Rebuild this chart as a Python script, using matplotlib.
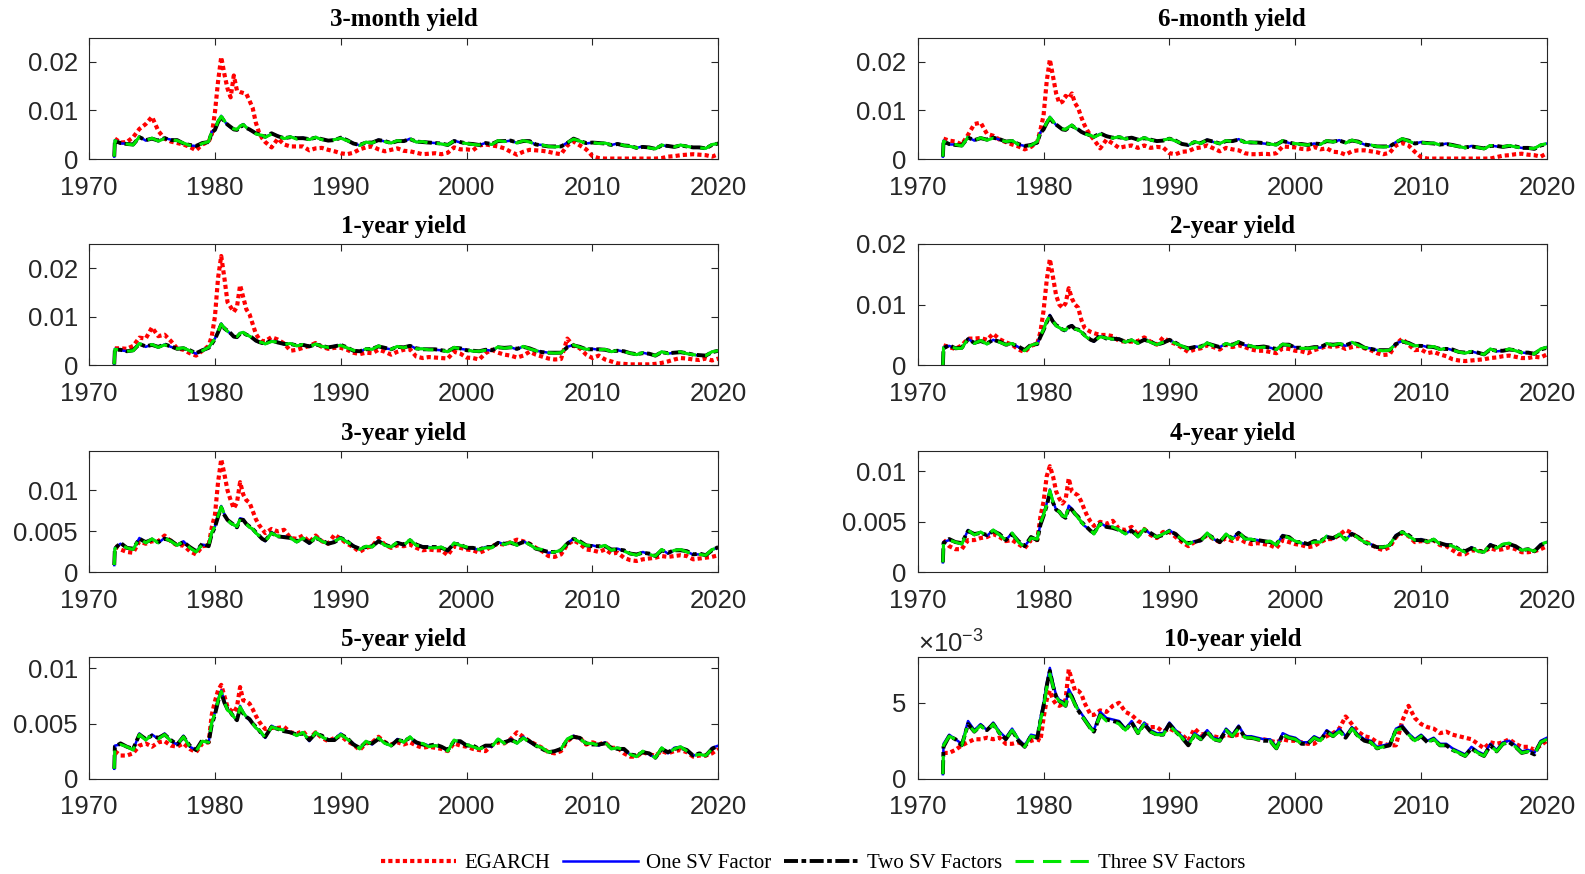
import numpy as np
import matplotlib
matplotlib.use('Agg')
import matplotlib.pyplot as plt
from matplotlib.ticker import ScalarFormatter, FuncFormatter

nan = np.nan

# time axis: half-yearly, quarterly through the 1980-84 spike
years = np.concatenate([[1972.0, 1972.05],
                        np.arange(1972.5, 1979.51, 0.5),
                        np.arange(1979.75, 1984.01, 0.25),
                        np.arange(1984.5, 2020.01, 0.5)])

# all series in units of 1e-3
# ---- 3-month
egarch_3m = [nan, 4.2,
             3.4, 3.5, 4.5, 6.2, 7.2, 8.7, 5.8, 4.2, 3.6, 3.3, 3.0, 2.5, 1.8, 3.0, 3.6,
             5.0, 9.6, 16.0, 21.0, 17.5, 14.5, 12.7, 17.2, 14.1, 13.8, 13.6, 13.4, 12.0, 10.5, 7.5, 5.5, 4.3, 3.5,
             2.4, 4.2, 3.0, 2.6, 2.6, 2.6, 1.8, 2.2, 2.3, 1.9, 1.6, 1.2, 1.0, 1.3, 2.0, 2.4, 2.6, 2.0, 1.6, 1.9,
             2.2, 1.7, 1.6, 1.3, 1.0, 1.1, 1.2, 1.0, 1.3, 2.4, 2.0,
             2.0, 1.8, 2.8, 3.0, 2.8, 2.6, 2.2, 1.5, 0.9, 1.5, 1.9, 1.8, 1.7, 1.5, 1.2, 1.0, 2.8, 3.6, 2.8, 2.0,
             0.6, 0.2, 0.1, 0.1, 0.1, 0.1, 0.1, 0.1, 0.1, 0.1, 0.1, 0.2, 0.5, 0.6, 0.8, 0.9, 1.0, 0.9, 0.8, 0.5, 1.0]
one_sv_3m = [0.5, 3.9,
             3.2, 3.2, 2.9, 4.6, 3.8, 4.3, 3.7, 4.3, 4.0, 3.8, 3.3, 2.8, 2.7, 3.2, 3.5,
             5.6, 6.2, 7.8, 8.9, 7.8, 7.0, 6.5, 6.2, 6.0, 6.8, 7.2, 6.5, 6.0, 5.8, 5.3, 5.0, 4.8, 4.5,
             5.2, 4.8, 4.2, 4.6, 4.2, 4.4, 4.0, 4.5, 4.0, 3.8, 4.0, 4.4, 3.8, 3.3, 2.8, 3.5, 3.3, 4.0, 3.6, 3.3,
             3.8, 3.6, 4.2, 3.5, 3.6, 3.4, 3.3, 3.1, 2.9, 3.8, 3.4,
             3.2, 3.0, 2.9, 3.3, 3.0, 3.8, 3.6, 3.8, 3.3, 3.8, 3.6, 3.0, 2.9, 2.6, 2.5, 2.6, 3.4, 4.1, 3.7, 3.2,
             3.4, 3.2, 3.3, 2.9, 3.2, 2.8, 2.6, 2.3, 2.6, 2.3, 2.1, 2.9, 2.6, 2.5, 2.9, 2.6, 2.4, 2.3, 2.2, 3.0, 3.2]
two_sv_3m = [0.5, 3.7,
             3.3, 3.1, 3.0, 4.5, 3.9, 4.2, 3.8, 4.3, 3.9, 3.9, 3.2, 2.9, 2.7, 3.3, 3.5,
             5.5, 6.0, 7.6, 8.7, 7.7, 7.1, 6.6, 6.1, 6.0, 6.6, 7.0, 6.4, 6.1, 5.7, 5.3, 5.1, 4.8, 4.6,
             5.3, 4.7, 4.3, 4.5, 4.3, 4.3, 4.1, 4.4, 4.1, 3.8, 3.9, 4.4, 3.9, 3.2, 2.9, 3.4, 3.4, 3.9, 3.7, 3.3,
             3.7, 3.7, 4.1, 3.6, 3.5, 3.4, 3.3, 3.2, 2.9, 3.7, 3.5,
             3.2, 3.1, 2.9, 3.3, 3.1, 3.7, 3.7, 3.8, 3.4, 3.7, 3.7, 3.0, 2.8, 2.6, 2.6, 2.6, 3.3, 4.2, 3.7, 3.3,
             3.4, 3.3, 3.2, 2.9, 3.1, 2.8, 2.7, 2.3, 2.5, 2.4, 2.1, 2.8, 2.7, 2.5, 2.8, 2.6, 2.4, 2.4, 2.2, 2.9, 3.2]
three_sv_3m = [0.5, 3.8,
               3.2, 3.1, 2.9, 4.6, 3.8, 4.3, 3.7, 4.2, 4.0, 3.8, 3.3, 2.8, 2.6, 3.2, 3.6,
               5.7, 6.1, 7.8, 8.8, 7.9, 7.0, 6.5, 6.2, 6.1, 6.8, 7.1, 6.5, 6.0, 5.8, 5.2, 5.0, 4.9, 4.5,
               5.1, 4.8, 4.2, 4.6, 4.1, 4.4, 4.0, 4.5, 4.0, 3.8, 4.0, 4.3, 3.8, 3.3, 2.8, 3.5, 3.3, 4.0, 3.6, 3.3,
               3.8, 3.6, 4.2, 3.5, 3.6, 3.3, 3.3, 3.1, 2.9, 3.8, 3.4,
               3.2, 3.0, 2.9, 3.2, 3.0, 3.8, 3.6, 3.8, 3.3, 3.8, 3.5, 3.0, 2.9, 2.6, 2.5, 2.6, 3.4, 4.1, 3.7, 3.2,
               3.4, 3.2, 3.3, 2.9, 3.2, 2.8, 2.6, 2.3, 2.6, 2.3, 2.1, 2.9, 2.6, 2.5, 2.9, 2.6, 2.4, 2.3, 2.2, 3.0, 3.2]

# ---- 6-month
egarch_6m = [nan, 4.2,
             3.8, 3.6, 3.0, 5.0, 7.2, 7.5, 5.2, 4.8, 4.0, 3.5, 3.0, 2.6, 2.0, 2.5, 3.5,
             6.0, 9.0, 16.0, 20.5, 17.0, 13.5, 11.5, 11.8, 13.0, 12.5, 13.5, 11.5, 10.5, 8.6, 7.0, 5.8, 4.8, 4.0,
             2.2, 4.0, 3.2, 2.3, 2.6, 2.8, 2.3, 2.8, 2.3, 2.5, 2.4, 1.2, 1.0, 1.5, 1.6, 2.2, 2.4, 2.8, 2.2, 1.6,
             2.3, 2.0, 1.8, 1.2, 1.0, 1.0, 1.1, 1.0, 1.2, 2.6, 2.5,
             2.4, 2.1, 2.0, 2.5, 2.0, 2.2, 1.5, 1.4, 0.9, 1.6, 1.8, 1.8, 1.6, 1.4, 1.0, 1.3, 2.8, 3.3, 2.8, 1.5,
             0.4, 0.1, 0.1, 0.1, 0.1, 0.1, 0.1, 0.1, 0.1, 0.1, 0.1, 0.1, 0.4, 0.7, 0.8, 1.0, 1.1, 0.9, 0.8, 0.5, 1.2]
one_sv_6m = [0.5, 3.8,
             3.0, 3.0, 2.7, 4.5, 3.8, 4.4, 3.9, 4.4, 4.0, 3.6, 3.8, 3.0, 2.7, 2.8, 3.5,
             5.5, 6.3, 7.5, 8.7, 7.8, 7.0, 6.5, 6.2, 6.0, 6.6, 7.0, 6.4, 6.0, 5.6, 5.2, 5.0, 4.8, 4.5,
             5.2, 4.8, 4.3, 4.6, 4.1, 4.5, 3.9, 4.4, 3.9, 3.7, 3.9, 4.2, 3.7, 3.2, 2.8, 3.6, 3.2, 4.0, 3.5, 3.2,
             3.8, 3.6, 4.1, 3.4, 3.5, 3.4, 3.2, 3.1, 2.9, 3.8, 3.3,
             3.2, 3.0, 2.9, 3.2, 3.0, 3.8, 3.5, 3.9, 3.3, 3.9, 3.5, 3.0, 2.9, 2.6, 2.5, 2.6, 3.5, 4.2, 3.7, 3.2,
             3.5, 3.2, 3.3, 2.9, 3.2, 2.8, 2.6, 2.3, 2.7, 2.4, 2.1, 2.8, 2.6, 2.5, 2.8, 2.5, 2.3, 2.2, 2.2, 2.9, 3.2]
two_sv_6m = [0.5, 3.6,
             3.1, 2.9, 2.8, 4.4, 3.9, 4.3, 4.0, 4.4, 4.1, 3.6, 3.7, 3.1, 2.7, 2.9, 3.4,
             5.4, 6.1, 7.4, 8.5, 7.6, 7.1, 6.6, 6.1, 6.0, 6.5, 6.9, 6.4, 6.1, 5.6, 5.3, 5.1, 4.8, 4.6,
             5.3, 4.7, 4.4, 4.5, 4.2, 4.4, 4.0, 4.3, 4.0, 3.7, 3.8, 4.2, 3.8, 3.1, 2.9, 3.5, 3.3, 3.9, 3.6, 3.2,
             3.7, 3.7, 4.0, 3.5, 3.4, 3.4, 3.3, 3.1, 3.0, 3.7, 3.4,
             3.1, 3.1, 2.9, 3.2, 3.1, 3.7, 3.6, 3.8, 3.4, 3.8, 3.6, 3.0, 2.8, 2.6, 2.6, 2.6, 3.4, 4.1, 3.8, 3.2,
             3.4, 3.3, 3.2, 3.0, 3.1, 2.9, 2.6, 2.4, 2.6, 2.4, 2.2, 2.7, 2.7, 2.5, 2.7, 2.6, 2.3, 2.3, 2.1, 2.8, 3.1]
three_sv_6m = [0.5, 3.7,
               3.0, 3.0, 2.7, 4.5, 3.8, 4.4, 3.9, 4.3, 4.0, 3.6, 3.8, 3.0, 2.6, 2.8, 3.6,
               5.6, 6.2, 7.5, 8.6, 7.8, 7.0, 6.5, 6.2, 6.1, 6.6, 7.0, 6.4, 6.0, 5.6, 5.2, 5.0, 4.9, 4.5,
               5.1, 4.8, 4.3, 4.6, 4.1, 4.5, 3.9, 4.4, 3.9, 3.7, 3.9, 4.2, 3.7, 3.2, 2.8, 3.6, 3.2, 4.0, 3.5, 3.2,
               3.8, 3.6, 4.1, 3.4, 3.5, 3.3, 3.2, 3.1, 2.9, 3.8, 3.3,
               3.2, 3.0, 2.9, 3.2, 3.0, 3.8, 3.5, 3.9, 3.3, 3.9, 3.5, 3.0, 2.9, 2.6, 2.5, 2.6, 3.5, 4.2, 3.7, 3.2,
               3.5, 3.2, 3.3, 2.9, 3.2, 2.8, 2.6, 2.3, 2.7, 2.4, 2.1, 2.8, 2.6, 2.5, 2.8, 2.5, 2.3, 2.2, 2.2, 2.9, 3.2]

# ---- 1-year
egarch_1y = [nan, 3.5,
             3.5, 3.4, 4.0, 5.7, 5.5, 7.8, 6.0, 6.3, 5.0, 3.5, 3.2, 2.5, 2.0, 3.0, 4.0,
             6.0, 10.0, 18.0, 22.5, 18.0, 13.0, 12.0, 11.0, 12.0, 16.5, 14.0, 11.5, 10.5, 8.5, 6.5, 5.5, 5.0, 5.0,
             5.8, 5.3, 4.5, 3.0, 3.2, 3.6, 4.0, 4.6, 3.8, 3.4, 3.6, 3.6, 3.2, 2.6, 2.3, 2.6, 2.5, 3.2, 2.8, 2.2,
             2.8, 3.2, 3.3, 1.8, 1.5, 1.7, 1.6, 1.5, 1.4, 2.8, 2.4,
             1.6, 1.5, 1.2, 2.5, 3.2, 2.6, 2.2, 2.0, 1.6, 2.0, 2.8, 2.2, 1.8, 1.4, 1.2, 1.3, 5.5, 4.0, 3.5, 2.2,
             1.5, 2.0, 1.2, 0.8, 0.4, 0.3, 0.2, 0.2, 0.2, 0.2, 0.3, 0.5, 0.8, 1.2, 1.5, 1.4, 1.2, 1.1, 1.4, 1.0, 1.4]
one_sv_1y = [0.2, 3.4,
             3.1, 2.9, 3.0, 4.5, 3.8, 4.3, 3.7, 4.3, 3.8, 3.4, 3.6, 3.0, 2.4, 3.0, 3.6,
             4.5, 5.5, 7.0, 8.6, 7.7, 7.0, 6.5, 6.0, 5.8, 6.6, 6.8, 6.3, 6.0, 5.6, 5.0, 4.8, 4.6, 4.4,
             5.0, 4.8, 4.3, 4.5, 4.0, 4.3, 3.8, 4.4, 3.9, 3.7, 4.0, 4.2, 3.6, 3.1, 2.8, 3.4, 3.3, 4.0, 3.5, 3.3,
             3.9, 3.6, 4.1, 3.4, 3.4, 3.3, 3.2, 3.1, 2.8, 3.7, 3.4,
             3.2, 2.9, 2.9, 3.2, 3.0, 3.8, 3.5, 3.7, 3.3, 3.9, 3.4, 3.0, 2.8, 2.6, 2.5, 2.6, 3.8, 4.2, 3.7, 3.3,
             3.4, 3.2, 3.3, 2.8, 3.1, 2.8, 2.5, 2.2, 2.6, 2.3, 2.0, 2.8, 2.4, 2.6, 2.8, 2.4, 2.2, 2.0, 2.0, 2.8, 3.0]
two_sv_1y = [0.2, 3.2,
             3.2, 2.9, 3.1, 4.4, 3.9, 4.2, 3.8, 4.3, 3.9, 3.4, 3.5, 3.1, 2.5, 3.1, 3.6,
             4.4, 5.4, 6.8, 8.4, 7.6, 7.1, 6.6, 5.9, 5.8, 6.5, 6.7, 6.3, 6.1, 5.6, 5.1, 4.8, 4.6, 4.5,
             5.1, 4.7, 4.4, 4.4, 4.1, 4.2, 3.9, 4.3, 4.0, 3.7, 3.9, 4.2, 3.7, 3.0, 2.9, 3.3, 3.4, 3.9, 3.6, 3.3,
             3.8, 3.7, 4.0, 3.5, 3.3, 3.3, 3.3, 3.1, 2.9, 3.6, 3.5,
             3.1, 3.0, 2.9, 3.2, 3.1, 3.7, 3.6, 3.7, 3.4, 3.8, 3.5, 3.0, 2.7, 2.6, 2.6, 2.6, 3.7, 4.1, 3.8, 3.3,
             3.3, 3.3, 3.2, 2.9, 3.0, 2.9, 2.5, 2.3, 2.5, 2.4, 2.0, 2.7, 2.5, 2.6, 2.7, 2.5, 2.2, 2.1, 2.0, 2.7, 3.0]
three_sv_1y = [0.2, 3.3,
               3.1, 2.9, 3.0, 4.5, 3.8, 4.3, 3.7, 4.2, 3.8, 3.4, 3.6, 3.0, 2.4, 3.0, 3.7,
               4.6, 5.5, 7.0, 8.5, 7.7, 7.0, 6.5, 6.0, 5.9, 6.6, 6.8, 6.3, 6.0, 5.6, 5.0, 4.8, 4.7, 4.4,
               4.9, 4.8, 4.3, 4.5, 4.0, 4.3, 3.8, 4.4, 3.9, 3.7, 4.0, 4.1, 3.6, 3.1, 2.8, 3.4, 3.3, 4.0, 3.5, 3.3,
               3.9, 3.6, 4.1, 3.4, 3.4, 3.2, 3.2, 3.1, 2.8, 3.7, 3.4,
               3.2, 2.9, 2.9, 3.1, 3.0, 3.8, 3.5, 3.7, 3.3, 3.9, 3.4, 3.0, 2.8, 2.6, 2.5, 2.6, 3.8, 4.2, 3.7, 3.3,
               3.4, 3.2, 3.3, 2.8, 3.1, 2.8, 2.5, 2.2, 2.6, 2.3, 2.0, 2.8, 2.4, 2.6, 2.8, 2.4, 2.2, 2.0, 2.0, 2.8, 3.0]

# ---- 2-year
egarch_2y = [nan, 3.3,
             3.0, 2.7, 3.3, 4.4, 4.4, 4.5, 4.2, 5.2, 4.3, 3.8, 3.4, 2.6, 2.2, 3.2, 3.6,
             5.5, 9.0, 14.0, 17.5, 14.5, 11.5, 10.0, 9.5, 10.2, 12.7, 11.0, 10.0, 9.5, 7.5, 6.2, 5.8, 5.5, 5.3,
             5.0, 5.0, 4.8, 4.0, 3.9, 3.9, 4.0, 4.6, 3.9, 3.4, 4.6, 3.9, 3.5, 2.9, 2.2, 2.6, 2.8, 3.3, 3.0, 2.6,
             3.4, 3.0, 3.3, 3.0, 2.6, 2.4, 2.4, 2.2, 2.0, 2.8, 2.7,
             2.4, 2.3, 2.0, 2.5, 2.8, 3.2, 3.0, 3.2, 2.7, 3.0, 3.2, 2.8, 2.5, 2.0, 1.7, 1.8, 3.5, 4.4, 3.4, 2.5,
             2.6, 2.0, 2.2, 1.8, 1.5, 1.0, 0.8, 0.7, 0.8, 0.9, 1.0, 1.2, 1.3, 1.5, 1.6, 1.4, 1.2, 1.2, 1.4, 1.3, 1.8]
one_sv_2y = [0.0, 3.0,
             3.2, 2.8, 2.8, 4.4, 3.6, 4.1, 3.5, 4.2, 3.8, 3.4, 3.6, 3.0, 2.4, 3.3, 3.5,
             4.8, 6.0, 7.3, 8.3, 7.3, 6.5, 6.2, 5.9, 5.7, 6.4, 6.6, 6.0, 5.8, 5.5, 4.9, 4.5, 4.2, 3.9,
             4.8, 4.5, 4.3, 4.4, 3.8, 4.2, 3.6, 4.3, 3.8, 3.4, 3.8, 4.2, 3.6, 3.2, 2.7, 3.1, 3.0, 3.7, 3.2, 3.0,
             3.6, 3.3, 3.9, 3.3, 3.2, 3.0, 3.0, 2.9, 2.6, 3.5, 3.3,
             3.0, 2.8, 2.8, 3.0, 2.9, 3.6, 3.3, 3.6, 3.2, 3.8, 3.4, 2.9, 2.8, 2.5, 2.4, 2.5, 3.6, 4.0, 3.6, 3.2,
             3.3, 3.0, 3.1, 2.6, 2.8, 2.5, 2.2, 2.0, 2.3, 2.0, 1.8, 2.7, 2.3, 2.4, 2.7, 2.4, 2.1, 2.0, 1.9, 2.7, 3.0]
two_sv_2y = [0.0, 2.8,
             3.3, 2.8, 2.9, 4.3, 3.7, 4.0, 3.6, 4.2, 3.9, 3.4, 3.5, 3.1, 2.5, 3.4, 3.5,
             4.7, 5.8, 7.1, 8.1, 7.2, 6.6, 6.3, 5.9, 5.7, 6.3, 6.5, 6.0, 5.9, 5.5, 5.0, 4.6, 4.2, 4.0,
             4.9, 4.4, 4.4, 4.3, 3.9, 4.1, 3.7, 4.2, 3.9, 3.4, 3.7, 4.2, 3.7, 3.1, 2.8, 3.0, 3.1, 3.6, 3.3, 3.0,
             3.5, 3.4, 3.8, 3.4, 3.1, 3.0, 3.1, 2.9, 2.7, 3.4, 3.4,
             2.9, 2.9, 2.8, 3.0, 3.0, 3.5, 3.4, 3.5, 3.3, 3.7, 3.5, 2.9, 2.7, 2.5, 2.5, 2.5, 3.5, 3.9, 3.7, 3.2,
             3.2, 3.1, 3.0, 2.7, 2.7, 2.6, 2.2, 2.1, 2.2, 2.1, 1.8, 2.6, 2.4, 2.4, 2.6, 2.5, 2.1, 2.1, 1.9, 2.6, 2.9]
three_sv_2y = [0.0, 2.9,
               3.2, 2.8, 2.8, 4.4, 3.6, 4.1, 3.5, 4.1, 3.8, 3.4, 3.6, 3.0, 2.4, 3.3, 3.6,
               4.9, 5.9, 7.3, 8.2, 7.3, 6.5, 6.2, 5.9, 5.8, 6.4, 6.6, 6.0, 5.8, 5.5, 4.9, 4.5, 4.3, 3.9,
               4.7, 4.5, 4.3, 4.4, 3.8, 4.2, 3.6, 4.3, 3.8, 3.4, 3.8, 4.1, 3.6, 3.2, 2.7, 3.1, 3.0, 3.7, 3.2, 3.0,
               3.6, 3.3, 3.9, 3.3, 3.2, 2.9, 3.0, 2.9, 2.6, 3.5, 3.3,
               3.0, 2.8, 2.8, 2.9, 2.9, 3.6, 3.3, 3.6, 3.2, 3.8, 3.3, 2.9, 2.8, 2.5, 2.4, 2.5, 3.6, 4.0, 3.6, 3.2,
               3.3, 3.0, 3.1, 2.6, 2.8, 2.5, 2.2, 2.0, 2.3, 2.0, 1.8, 2.7, 2.3, 2.4, 2.7, 2.4, 2.1, 2.0, 1.9, 2.7, 3.0]

# ---- 3-year
egarch_3y = [nan, 3.2,
             2.8, 2.5, 2.4, 3.8, 3.5, 3.8, 3.8, 4.5, 3.8, 3.3, 3.3, 2.6, 2.2, 3.2, 3.3,
             5.5, 7.0, 11.0, 13.8, 12.0, 10.0, 8.8, 7.8, 8.5, 11.0, 9.5, 8.8, 8.5, 7.5, 6.5, 5.8, 5.3, 4.8,
             5.3, 5.0, 5.2, 4.2, 4.1, 4.5, 3.7, 4.5, 3.8, 3.5, 4.6, 4.1, 3.5, 3.1, 2.5, 3.0, 3.2, 4.2, 3.4, 3.0,
             3.3, 3.2, 3.4, 3.0, 2.7, 2.8, 2.7, 2.7, 2.1, 3.2, 3.0,
             2.8, 2.7, 2.4, 2.7, 3.2, 3.5, 3.4, 3.7, 4.0, 3.8, 3.5, 3.0, 2.6, 2.0, 1.9, 2.2, 3.4, 3.9, 3.5, 2.8,
             2.7, 2.5, 2.8, 2.3, 2.4, 1.8, 1.5, 1.4, 1.6, 1.7, 1.8, 2.0, 1.9, 2.0, 2.1, 2.0, 1.6, 1.7, 1.8, 1.9, 2.1]
one_sv_3y = [0.9, 3.0,
             3.5, 3.0, 2.8, 4.2, 3.6, 4.1, 3.6, 4.2, 3.8, 3.3, 3.8, 3.0, 2.6, 3.4, 3.2,
             4.8, 5.6, 7.0, 8.1, 7.1, 6.4, 6.0, 5.8, 5.5, 6.6, 6.5, 5.9, 5.5, 5.3, 4.8, 4.5, 4.1, 3.8,
             4.9, 4.4, 4.4, 4.2, 3.7, 4.2, 3.5, 4.3, 3.8, 3.5, 3.8, 4.3, 3.7, 3.3, 2.8, 3.2, 3.1, 3.9, 3.3, 3.1,
             3.7, 3.3, 4.0, 3.3, 3.2, 3.1, 3.0, 3.1, 2.6, 3.6, 3.3,
             3.1, 2.9, 2.8, 3.1, 3.0, 3.7, 3.4, 3.7, 3.3, 3.8, 3.4, 2.9, 2.8, 2.4, 2.5, 2.7, 3.6, 4.1, 3.7, 3.3,
             3.3, 3.1, 3.3, 2.7, 2.9, 2.6, 2.3, 2.1, 2.5, 2.2, 2.0, 2.8, 2.3, 2.7, 2.8, 2.5, 2.2, 2.2, 2.1, 2.8, 3.0]
two_sv_3y = [0.9, 2.9,
             3.6, 3.0, 2.9, 4.1, 3.7, 4.0, 3.7, 4.1, 3.9, 3.3, 3.7, 3.1, 2.6, 3.5, 3.2,
             4.7, 5.5, 6.8, 7.9, 7.0, 6.4, 6.1, 5.8, 5.5, 6.4, 6.4, 5.9, 5.6, 5.3, 4.9, 4.5, 4.1, 3.9,
             4.8, 4.4, 4.3, 4.2, 3.8, 4.1, 3.6, 4.2, 3.9, 3.5, 3.7, 4.2, 3.8, 3.2, 2.9, 3.1, 3.2, 3.8, 3.4, 3.1,
             3.6, 3.4, 3.9, 3.4, 3.1, 3.1, 3.1, 3.0, 2.7, 3.5, 3.4,
             3.0, 3.0, 2.8, 3.1, 3.1, 3.6, 3.5, 3.6, 3.4, 3.7, 3.5, 2.9, 2.7, 2.5, 2.5, 2.7, 3.5, 4.1, 3.8, 3.3,
             3.2, 3.2, 3.2, 2.8, 2.8, 2.7, 2.3, 2.2, 2.4, 2.3, 2.0, 2.7, 2.4, 2.7, 2.7, 2.6, 2.2, 2.3, 2.1, 2.7, 3.1]
three_sv_3y = [0.9, 2.9,
               3.4, 3.0, 2.8, 4.2, 3.6, 4.1, 3.6, 4.2, 3.8, 3.3, 3.8, 3.0, 2.5, 3.4, 3.3,
               4.9, 5.6, 6.9, 8.0, 7.1, 6.4, 6.0, 5.8, 5.6, 6.5, 6.5, 5.9, 5.5, 5.3, 4.8, 4.5, 4.2, 3.8,
               4.8, 4.4, 4.4, 4.2, 3.7, 4.2, 3.5, 4.3, 3.8, 3.5, 3.8, 4.2, 3.7, 3.3, 2.8, 3.2, 3.1, 3.9, 3.3, 3.1,
               3.7, 3.3, 4.0, 3.3, 3.2, 3.0, 3.0, 3.1, 2.6, 3.6, 3.3,
               3.1, 2.9, 2.8, 3.0, 3.0, 3.7, 3.4, 3.7, 3.3, 3.8, 3.4, 2.9, 2.8, 2.4, 2.5, 2.7, 3.6, 4.1, 3.7, 3.3,
               3.3, 3.1, 3.3, 2.7, 2.9, 2.6, 2.3, 2.1, 2.5, 2.2, 2.0, 2.8, 2.3, 2.7, 2.8, 2.5, 2.2, 2.2, 2.1, 2.8, 3.0]

# ---- 4-year
egarch_4y = [nan, 3.2,
             2.6, 2.3, 2.3, 3.2, 3.2, 3.4, 3.5, 3.8, 3.5, 3.1, 3.2, 2.8, 2.4, 3.2, 3.2,
             5.5, 7.0, 9.5, 10.5, 9.5, 8.0, 7.3, 6.8, 7.2, 9.3, 8.0, 7.8, 7.6, 7.0, 6.2, 5.5, 5.0, 4.6,
             5.0, 4.8, 5.1, 4.3, 4.2, 4.5, 3.7, 4.3, 3.7, 3.4, 4.0, 4.0, 3.5, 3.0, 2.6, 3.0, 3.2, 3.7, 3.3, 3.0,
             3.4, 3.1, 3.4, 3.0, 2.8, 2.9, 2.8, 2.7, 2.4, 3.2, 3.0,
             2.8, 2.7, 2.5, 2.6, 3.0, 3.3, 3.3, 3.7, 4.2, 3.9, 3.4, 3.1, 2.8, 2.4, 2.2, 2.5, 3.5, 3.9, 3.6, 3.0,
             3.1, 3.0, 3.2, 2.7, 2.6, 2.2, 1.8, 1.8, 2.2, 2.1, 2.1, 2.4, 2.2, 2.3, 2.5, 2.3, 2.0, 2.0, 2.1, 2.3, 2.6]
one_sv_4y = [1.0, 3.0,
             3.2, 3.0, 2.8, 4.2, 3.7, 4.0, 3.6, 4.2, 3.7, 3.2, 3.9, 3.0, 2.6, 3.4, 3.2,
             4.8, 5.8, 6.8, 8.2, 7.0, 6.2, 6.0, 5.6, 5.4, 6.6, 6.3, 5.8, 5.4, 5.0, 4.6, 4.4, 4.1, 3.8,
             4.9, 4.5, 4.5, 4.2, 3.8, 4.2, 3.5, 4.3, 3.8, 3.5, 3.8, 4.2, 3.7, 3.3, 2.8, 3.1, 3.1, 3.9, 3.3, 3.0,
             3.8, 3.3, 4.0, 3.3, 3.3, 3.2, 3.0, 3.1, 2.7, 3.7, 3.4,
             3.1, 2.9, 2.8, 3.1, 3.0, 3.6, 3.3, 3.8, 3.2, 3.9, 3.4, 3.0, 2.8, 2.5, 2.5, 2.7, 3.7, 4.0, 3.6, 3.2,
             3.3, 3.0, 3.3, 2.8, 2.8, 2.6, 2.3, 2.0, 2.5, 2.1, 2.0, 2.8, 2.4, 2.8, 2.9, 2.5, 2.2, 2.3, 2.1, 2.8, 3.0]
two_sv_4y = [1.0, 2.9,
             3.3, 3.0, 2.9, 4.1, 3.8, 3.9, 3.7, 4.1, 3.8, 3.2, 3.8, 3.1, 2.6, 3.5, 3.2,
             4.7, 5.6, 6.6, 7.8, 6.9, 6.2, 6.0, 5.6, 5.4, 6.4, 6.2, 5.8, 5.5, 5.0, 4.7, 4.4, 4.1, 3.9,
             4.8, 4.5, 4.4, 4.2, 3.9, 4.1, 3.6, 4.2, 3.9, 3.5, 3.7, 4.1, 3.8, 3.2, 2.9, 3.0, 3.2, 3.8, 3.4, 3.0,
             3.7, 3.4, 3.9, 3.4, 3.2, 3.2, 3.1, 3.0, 2.8, 3.6, 3.5,
             3.0, 3.0, 2.8, 3.1, 3.1, 3.5, 3.4, 3.7, 3.3, 3.8, 3.5, 3.0, 2.7, 2.5, 2.5, 2.7, 3.6, 4.0, 3.7, 3.2,
             3.2, 3.1, 3.2, 2.9, 2.7, 2.7, 2.3, 2.1, 2.4, 2.2, 2.0, 2.7, 2.5, 2.7, 2.8, 2.6, 2.2, 2.3, 2.1, 2.7, 3.0]
three_sv_4y = [1.0, 2.9,
               3.2, 3.0, 2.8, 4.2, 3.7, 4.0, 3.6, 4.2, 3.7, 3.2, 3.9, 3.0, 2.5, 3.4, 3.3,
               4.9, 5.7, 6.7, 8.1, 7.0, 6.2, 6.0, 5.6, 5.5, 6.5, 6.3, 5.8, 5.4, 5.0, 4.6, 4.4, 4.2, 3.8,
               4.8, 4.5, 4.5, 4.2, 3.8, 4.2, 3.5, 4.3, 3.8, 3.5, 3.8, 4.1, 3.7, 3.3, 2.8, 3.1, 3.1, 3.9, 3.3, 3.0,
               3.8, 3.3, 4.0, 3.3, 3.3, 3.1, 3.0, 3.1, 2.7, 3.7, 3.4,
               3.1, 2.9, 2.8, 3.0, 3.0, 3.6, 3.3, 3.8, 3.2, 3.9, 3.4, 3.0, 2.8, 2.5, 2.5, 2.7, 3.7, 4.0, 3.6, 3.2,
               3.3, 3.0, 3.3, 2.8, 2.8, 2.6, 2.3, 2.0, 2.5, 2.1, 2.0, 2.8, 2.4, 2.8, 2.9, 2.5, 2.2, 2.3, 2.1, 2.8, 3.0]

# ---- 5-year
egarch_5y = [nan, 2.5,
             2.1, 2.1, 2.3, 3.0, 3.2, 2.9, 3.3, 3.4, 3.0, 2.9, 3.2, 2.7, 2.4, 3.2, 3.3,
             5.8, 7.0, 8.0, 8.5, 7.5, 6.5, 6.2, 6.0, 6.5, 8.3, 7.1, 7.0, 6.8, 6.3, 5.7, 5.2, 4.8, 4.5,
             4.6, 4.6, 4.7, 4.2, 4.1, 4.3, 3.6, 4.2, 3.7, 3.4, 3.7, 3.9, 3.4, 3.1, 2.6, 3.2, 3.3, 3.8, 3.3, 3.1,
             3.3, 3.1, 3.3, 3.0, 2.8, 2.9, 2.8, 2.7, 2.5, 3.2, 3.0,
             2.9, 2.7, 2.6, 2.5, 3.0, 3.3, 3.2, 3.6, 4.2, 3.8, 3.4, 3.1, 2.8, 2.4, 2.3, 2.5, 3.4, 3.8, 3.7, 3.1,
             3.3, 3.1, 3.3, 2.8, 2.8, 2.3, 2.0, 2.0, 2.4, 2.2, 2.1, 2.5, 2.3, 2.5, 2.6, 2.4, 2.0, 2.1, 2.1, 2.3, 2.7]
one_sv_5y = [0.9, 3.0,
             3.1, 2.9, 2.6, 4.1, 3.5, 4.0, 3.6, 4.1, 3.4, 3.1, 3.9, 2.9, 2.6, 3.4, 3.3,
             5.0, 6.0, 7.2, 8.0, 7.0, 6.3, 6.0, 5.6, 5.3, 6.6, 6.0, 5.6, 5.3, 5.0, 4.6, 4.4, 4.0, 3.7,
             4.8, 4.5, 4.4, 4.2, 3.9, 4.2, 3.4, 4.2, 3.8, 3.5, 3.6, 4.1, 3.6, 3.2, 2.7, 3.4, 3.1, 3.7, 3.2, 3.0,
             3.6, 3.3, 3.8, 3.2, 3.2, 3.0, 3.0, 2.9, 2.5, 3.5, 3.3,
             3.1, 2.9, 2.7, 3.0, 2.9, 3.6, 3.2, 3.6, 3.2, 3.8, 3.3, 3.0, 2.8, 2.4, 2.5, 2.7, 3.6, 3.9, 3.6, 3.2,
             3.2, 3.0, 3.3, 2.7, 2.8, 2.6, 2.2, 2.0, 2.5, 2.2, 1.9, 2.8, 2.3, 2.8, 2.9, 2.5, 2.1, 2.2, 2.1, 2.8, 3.0]
two_sv_5y = [0.9, 2.9,
             3.2, 2.9, 2.7, 4.0, 3.6, 3.9, 3.7, 4.0, 3.5, 3.1, 3.8, 3.0, 2.6, 3.5, 3.3,
             4.9, 5.8, 7.0, 7.8, 6.9, 6.3, 6.0, 5.6, 5.3, 6.4, 5.9, 5.6, 5.4, 5.0, 4.7, 4.4, 4.0, 3.8,
             4.7, 4.5, 4.3, 4.2, 4.0, 4.1, 3.5, 4.1, 3.9, 3.5, 3.5, 4.0, 3.7, 3.1, 2.8, 3.3, 3.2, 3.6, 3.3, 3.0,
             3.5, 3.4, 3.7, 3.3, 3.1, 3.0, 3.1, 2.9, 2.6, 3.4, 3.4,
             3.0, 3.0, 2.7, 3.0, 3.0, 3.5, 3.3, 3.5, 3.3, 3.7, 3.4, 3.0, 2.7, 2.4, 2.5, 2.7, 3.5, 3.8, 3.7, 3.2,
             3.1, 3.1, 3.2, 2.8, 2.7, 2.7, 2.2, 2.1, 2.4, 2.3, 1.9, 2.7, 2.4, 2.7, 2.8, 2.6, 2.1, 2.3, 2.1, 2.7, 3.0]
three_sv_5y = [0.9, 2.9,
               3.1, 2.9, 2.6, 4.0, 3.5, 4.0, 3.6, 4.0, 3.4, 3.1, 3.8, 2.9, 2.5, 3.4, 3.3,
               5.1, 5.9, 7.1, 7.9, 7.0, 6.2, 6.0, 5.6, 5.3, 6.5, 6.0, 5.6, 5.3, 5.0, 4.6, 4.4, 4.1, 3.7,
               4.7, 4.5, 4.4, 4.2, 3.9, 4.2, 3.4, 4.2, 3.8, 3.5, 3.6, 4.0, 3.6, 3.2, 2.7, 3.4, 3.1, 3.7, 3.2, 3.0,
               3.6, 3.3, 3.8, 3.2, 3.2, 2.9, 3.0, 2.9, 2.5, 3.5, 3.3,
               3.1, 2.9, 2.7, 2.9, 2.9, 3.6, 3.2, 3.6, 3.2, 3.7, 3.3, 3.0, 2.8, 2.4, 2.5, 2.7, 3.6, 3.9, 3.6, 3.2,
               3.2, 3.0, 3.3, 2.7, 2.8, 2.6, 2.2, 2.0, 2.5, 2.2, 1.9, 2.8, 2.3, 2.7, 2.9, 2.5, 2.1, 2.2, 2.1, 2.7, 3.0]

# ---- 10-year
egarch_10y = [nan, 1.7,
              1.7, 1.9, 2.2, 2.4, 2.6, 2.6, 2.7, 2.6, 2.7, 2.3, 2.3, 2.4, 2.2, 2.5, 2.6,
              2.5, 4.0, 5.2, 5.8, 5.2, 4.9, 4.8, 4.9, 5.2, 7.2, 6.5, 5.8, 5.8, 5.6, 5.0, 4.6, 4.2, 4.2,
              4.5, 4.4, 4.8, 5.0, 4.4, 4.2, 3.8, 3.6, 3.4, 3.4, 3.1, 3.3, 3.1, 2.9, 2.5, 3.3, 2.9, 3.0, 2.8, 2.7,
              2.9, 2.8, 2.9, 2.8, 2.7, 2.6, 2.6, 2.5, 2.4, 2.6, 2.5,
              2.5, 2.4, 2.3, 2.3, 2.6, 2.8, 3.0, 3.3, 4.1, 3.6, 3.1, 2.8, 2.7, 2.4, 2.3, 2.2, 2.2, 3.8, 4.8, 4.0,
              3.6, 3.4, 3.3, 3.0, 3.1, 2.9, 2.8, 2.7, 2.6, 2.3, 2.0, 2.4, 2.3, 2.4, 2.6, 2.3, 2.1, 2.1, 1.9, 2.2, 2.5]
one_sv_10y = [0.3, 2.3,
              2.9, 2.6, 2.3, 3.8, 3.2, 3.6, 3.2, 3.7, 3.1, 2.7, 3.3, 2.6, 2.2, 2.9, 2.8,
              4.0, 5.0, 6.3, 7.3, 6.3, 5.5, 5.2, 5.1, 4.9, 5.9, 5.5, 5.0, 4.6, 4.3, 4.0, 3.7, 3.4, 3.2,
              4.4, 4.0, 3.9, 3.8, 3.3, 3.8, 3.1, 3.7, 3.2, 3.0, 3.0, 3.7, 3.2, 2.8, 2.3, 3.0, 2.7, 3.2, 2.7, 2.6,
              3.3, 2.9, 3.5, 2.8, 2.8, 2.7, 2.6, 2.6, 2.1, 3.0, 2.8,
              2.7, 2.4, 2.4, 2.8, 2.6, 3.2, 2.9, 3.3, 2.8, 3.4, 2.9, 2.6, 2.5, 2.1, 2.2, 2.3, 3.3, 3.5, 3.0, 2.6,
              2.9, 2.5, 2.7, 2.3, 2.3, 2.0, 1.8, 1.6, 2.1, 1.8, 1.6, 2.3, 1.9, 2.4, 2.5, 2.2, 1.8, 1.9, 1.7, 2.5, 2.7]
two_sv_10y = [0.3, 2.1,
              2.8, 2.6, 2.2, 3.6, 3.1, 3.5, 3.2, 3.6, 3.0, 2.6, 3.2, 2.5, 2.1, 2.8, 2.7,
              3.8, 4.8, 6.1, 7.1, 6.1, 5.4, 5.1, 5.0, 4.8, 5.7, 5.4, 4.9, 4.5, 4.2, 3.9, 3.6, 3.3, 3.1,
              4.2, 3.9, 3.8, 3.7, 3.2, 3.7, 3.0, 3.6, 3.1, 2.9, 2.9, 3.6, 3.1, 2.7, 2.2, 2.9, 2.6, 3.1, 2.6, 2.5,
              3.2, 2.8, 3.4, 2.7, 2.7, 2.6, 2.5, 2.5, 2.0, 2.9, 2.7,
              2.6, 2.3, 2.3, 2.7, 2.5, 3.1, 2.8, 3.2, 2.7, 3.3, 2.8, 2.5, 2.4, 2.0, 2.1, 2.2, 3.2, 3.4, 2.9, 2.5,
              2.8, 2.4, 2.6, 2.2, 2.2, 1.9, 1.7, 1.5, 2.0, 1.7, 1.5, 2.2, 1.8, 2.3, 2.4, 2.1, 1.7, 1.8, 1.6, 2.4, 2.6]
three_sv_10y = [0.3, 2.2,
                2.8, 2.6, 2.2, 3.6, 3.1, 3.5, 3.1, 3.6, 3.0, 2.6, 3.2, 2.6, 2.1, 2.8, 2.7,
                3.8, 4.7, 6.0, 6.9, 6.1, 5.4, 5.1, 5.0, 4.8, 5.7, 5.3, 4.9, 4.5, 4.2, 3.9, 3.6, 3.3, 3.1,
                4.2, 3.8, 3.8, 3.6, 3.2, 3.7, 3.0, 3.6, 3.1, 2.9, 2.9, 3.5, 3.1, 2.7, 2.2, 2.9, 2.6, 3.1, 2.6, 2.5,
                3.2, 2.8, 3.3, 2.7, 2.7, 2.6, 2.5, 2.5, 2.0, 2.9, 2.7,
                2.6, 2.3, 2.3, 2.7, 2.5, 3.1, 2.8, 3.1, 2.7, 3.3, 2.8, 2.5, 2.4, 2.0, 2.1, 2.2, 3.2, 3.3, 2.9, 2.5,
                2.8, 2.4, 2.6, 2.2, 2.2, 1.9, 1.7, 1.5, 2.0, 1.7, 1.5, 2.2, 1.8, 2.3, 2.4, 2.1, 1.7, 1.8, 1.6, 2.4, 2.6]

titles = ['3-month yield', '6-month yield', '1-year yield', '2-year yield',
          '3-year yield', '4-year yield', '5-year yield', '10-year yield']
egarch = [egarch_3m, egarch_6m, egarch_1y, egarch_2y, egarch_3y, egarch_4y, egarch_5y, egarch_10y]
one_sv = [one_sv_3m, one_sv_6m, one_sv_1y, one_sv_2y, one_sv_3y, one_sv_4y, one_sv_5y, one_sv_10y]
two_sv = [two_sv_3m, two_sv_6m, two_sv_1y, two_sv_2y, two_sv_3y, two_sv_4y, two_sv_5y, two_sv_10y]
three_sv = [three_sv_3m, three_sv_6m, three_sv_1y, three_sv_2y, three_sv_3y, three_sv_4y, three_sv_5y, three_sv_10y]
ymax = [0.025, 0.025, 0.025, 0.02, 0.0148, 0.012, 0.011, 0.008]
yticks = [[0, 0.01, 0.02], [0, 0.01, 0.02], [0, 0.01, 0.02], [0, 0.01, 0.02],
          [0, 0.005, 0.01], [0, 0.005, 0.01], [0, 0.005, 0.01], [0, 0.005]]
xticks = [1970, 1980, 1990, 2000, 2010, 2020]

for group in (egarch, one_sv, two_sv, three_sv):
    for k, s in enumerate(group):
        if len(s) != len(years):
            raise ValueError('%s panel %d has %d values, expected %d' % (titles[k], k, len(s), len(years)))

plt.rcParams['font.family'] = ['Liberation Sans', 'DejaVu Sans']
plt.rcParams['axes.unicode_minus'] = False
plt.rcParams['mathtext.fontset'] = 'custom'
plt.rcParams['mathtext.rm'] = 'Liberation Sans'

dark = '#262626'
fig = plt.figure(figsize=(15.85, 8.74), dpi=100)

lefts = [0.0562, 0.579]
bottoms = [0.818, 0.582, 0.345, 0.109]
w, h = 0.397, 0.139

for i in range(8):
    ax = fig.add_axes([lefts[i % 2], bottoms[i // 2], w, h])
    ax.plot(years, np.array(egarch[i]) * 1e-3, color='red', ls=(0, (1, 0.75)), lw=3, label='EGARCH')
    ax.plot(years, np.array(one_sv[i]) * 1e-3, color='blue', lw=1.8, label='One SV Factor')
    ax.plot(years, np.array(two_sv[i]) * 1e-3, color='black', ls=(0, (3.6, 0.9, 1.2, 0.9)), lw=2.8,
            label='Two SV Factors')
    ax.plot(years, np.array(three_sv[i]) * 1e-3, color='#00e600', ls=(0, (6, 3)), lw=2.2,
            label='Three SV Factors')
    ax.set_xlim(1970, 2020)
    ax.set_ylim(0, ymax[i])
    ax.set_xticks(xticks)
    ax.set_yticks(yticks[i])
    if i == 7:
        fmt = ScalarFormatter(useMathText=True)
        fmt.set_powerlimits((0, 0))
        ax.yaxis.set_major_formatter(fmt)
        ax.yaxis.get_offset_text().set_fontsize(18.5)
        ax.yaxis.get_offset_text().set_color(dark)
    else:
        ax.yaxis.set_major_formatter(FuncFormatter(lambda v, p: '%g' % v))
    ax.tick_params(direction='in', length=5, width=0.8, top=True, right=True,
                   labelsize=18.5, colors=dark)
    ax.tick_params(axis='x', pad=12)
    ax.tick_params(axis='y', pad=8)
    for sp in ax.spines.values():
        sp.set_color(dark)
        sp.set_linewidth(0.8)
    ax.set_title(titles[i], family='Liberation Serif', fontweight='bold', fontsize=18, pad=8)

handles, labels = fig.axes[0].get_legend_handles_labels()
fig.legend(handles, labels, loc='lower center', bbox_to_anchor=(0.513, -0.011), ncol=4, frameon=False,
           handlelength=3.6, handletextpad=0.4, columnspacing=0.6, borderpad=0,
           prop={'family': 'Liberation Serif', 'size': 15})

fig.savefig('out.png', dpi=100, facecolor='white')
